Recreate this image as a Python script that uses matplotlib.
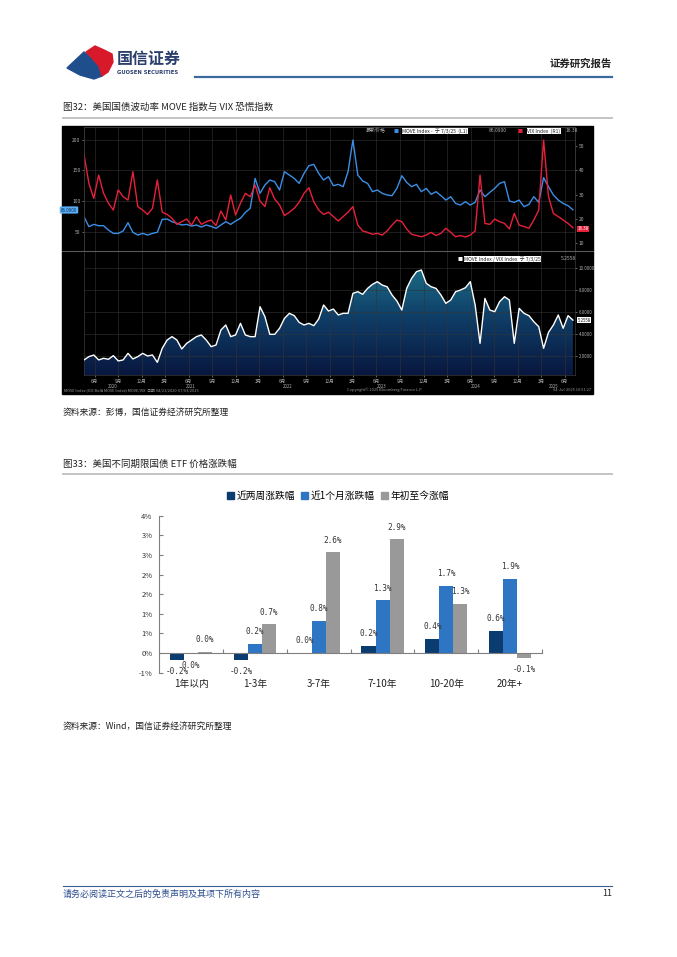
import matplotlib
matplotlib.use('Agg')
import matplotlib.pyplot as plt
import matplotlib.dates as mdates
from matplotlib.patches import Rectangle, Polygon, Patch
from matplotlib.colors import LinearSegmentedColormap
import numpy as np
import pandas as pd

plt.rcParams['font.family'] = ['Noto Sans CJK SC', 'DejaVu Sans']

# ---- 图32 data (evenly spaced samples) ----
move = [74.9, 58.7, 62.4, 60.3, 60.3, 53.2, 47.8, 47.8, 51.6, 65.1,
        49.5, 45.1, 47.8, 45.1, 47.8, 49.5, 70.6, 71.1, 66.8, 64.1,
        61.4, 62.4, 59.7, 61.4, 58.1, 61.4, 59.2, 56.0, 61.4, 66.8,
        62.4, 67.9, 72.2, 81.9, 88.4, 137.1, 112.8, 126.3, 134.4, 131.7,
        118.2, 147.9, 142.5, 137.1, 129.0, 145.2, 157.7, 159.8, 145.2, 134.4,
        139.8, 125.2, 127.4, 123.6, 147.9, 199.3, 142.5, 132.8, 129.0, 115.5,
        118.2, 112.8, 110.1, 109.0, 120.9, 141.4, 130.6, 123.6, 127.4, 115.5,
        120.9, 111.2, 115.5, 109.0, 101.9, 107.4, 96.5, 93.8, 99.2, 93.8,
        98.2, 118.2, 107.4, 114.4, 120.9, 129.0, 131.7, 100.3, 98.2, 101.9,
        91.1, 94.9, 107.4, 98.2, 138.2, 123.6, 110.1, 101.9, 96.5, 92.7, 86.1]
vix = [46.6, 34.7, 28.5, 38.1, 30.6, 26.5, 23.7, 32.0, 29.2, 27.8,
       39.5, 25.1, 23.7, 21.9, 24.4, 36.1, 22.8, 21.9, 20.3, 17.8,
       18.9, 20.0, 17.5, 21.0, 17.8, 18.9, 19.6, 17.3, 23.3, 19.6,
       29.9, 21.7, 26.5, 30.6, 29.2, 34.0, 27.4, 25.1, 32.9, 28.2,
       25.8, 21.4, 22.8, 24.4, 26.9, 30.6, 32.9, 27.1, 23.7, 21.9,
       22.8, 21.0, 19.2, 21.0, 22.8, 25.1, 17.5, 15.1, 14.5, 13.7,
       14.1, 13.4, 15.1, 17.5, 19.6, 18.9, 15.9, 13.7, 13.2, 12.7,
       13.4, 14.5, 13.2, 14.1, 16.2, 14.5, 12.7, 13.2, 12.6, 13.4,
       15.1, 38.1, 18.2, 17.8, 20.0, 18.9, 18.2, 15.9, 22.3, 17.5,
       16.9, 16.2, 19.6, 23.7, 52.5, 29.2, 22.3, 21.0, 19.6, 18.2, 16.4]
ratio = [1.64, 1.94, 2.09, 1.64, 1.79, 1.70, 2.03, 1.55, 1.64, 2.24,
         1.73, 1.94, 2.24, 2.00, 2.09, 1.42, 2.70, 3.45, 3.76, 3.45,
         2.64, 3.15, 3.45, 3.76, 3.91, 3.45, 2.85, 3.00, 4.36, 4.82,
         3.76, 3.91, 4.97, 3.91, 3.76, 3.76, 6.48, 5.58, 3.97, 3.97,
         4.52, 5.42, 5.88, 5.67, 5.06, 4.82, 4.97, 4.76, 5.36, 6.64,
         6.09, 6.27, 5.73, 5.88, 5.88, 7.70, 7.85, 7.61, 8.15, 8.52,
         8.76, 8.45, 8.30, 7.55, 7.00, 6.18, 8.15, 9.06, 9.67, 9.82,
         8.61, 8.30, 8.15, 7.55, 6.79, 7.09, 7.85, 8.00, 8.21, 8.76,
         6.64, 3.15, 7.24, 6.18, 6.03, 6.94, 7.39, 7.09, 3.15, 6.33,
         5.88, 5.67, 5.12, 4.67, 2.70, 4.15, 4.82, 5.73, 4.52, 5.67, 5.26]
dates = pd.date_range('2020-04-21', '2025-07-03', periods=len(move))

# ---- 图33 data ----
categories = ['1年以内', '1-3年', '3-7年', '7-10年', '10-20年', '20年+']
series_names = ['近两周涨跌幅', '近1个月涨跌幅', '年初至今涨幅']
two_week = [-0.18, -0.17, 0.01, 0.18, 0.36, 0.56]
one_month = [-0.02, 0.24, 0.82, 1.34, 1.71, 1.90]
ytd = [0.03, 0.73, 2.57, 2.90, 1.26, -0.12]

W, H = 677, 957
fig = plt.figure(figsize=(W / 100, H / 100), dpi=100)


def fx(x):
    return x / W


def fy(y):
    return 1 - y / H


def hline(x0, x1, y, color, lw):
    fig.add_artist(plt.Line2D([fx(x0), fx(x1)], [fy(y), fy(y)], color=color, lw=lw,
                              transform=fig.transFigure))


def tiny(x, y, s, color, **kw):
    fig.text(fx(x), fy(y), s, fontsize=kw.pop('size', 3.6), color=color, va='center', **kw)


# ---- page header ----
blue_pts = [(67, 68), (84, 52), (92, 58), (99, 66), (102, 76), (94, 79), (80, 75)]
red_pts = [(86, 52), (95, 46), (104, 50), (112, 54), (113, 62), (108, 72), (102, 76), (99, 66), (92, 58)]
fig.add_artist(Polygon([(fx(a), fy(b)) for a, b in blue_pts], closed=True, color='#1f4e8c',
                       transform=fig.transFigure))
fig.add_artist(Polygon([(fx(a), fy(b)) for a, b in red_pts], closed=True, color='#d7192a',
                       transform=fig.transFigure))
fig.text(fx(117), fy(59), '国信证券', fontsize=11.5, fontweight='bold', color='#2b3f6c', va='center')
fig.text(fx(117), fy(72), 'GUOSEN SECURITIES', fontsize=3.8, fontweight='bold', color='#2b3f6c',
         va='center', family='DejaVu Sans')
fig.text(fx(612), fy(64), '证券研究报告', fontsize=7.5, fontweight='bold', color='#222222',
         va='center', ha='right')
hline(195, 612, 77, '#3a6a9e', 1.6)

fig.text(fx(63), fy(107), '图32：美国国债波动率 MOVE 指数与 VIX 恐慌指数', fontsize=6.8,
         color='#222222', va='center')
hline(63, 612, 117.5, '#c4c4c4', 1.4)

# ---- Bloomberg style chart ----
fig.add_artist(Rectangle((fx(62), fy(394)), fx(593) - fx(62), fy(126) - fy(394),
                         transform=fig.transFigure, color='black', zorder=0))

grid_c = '#343434'
lab_c = '#b0b0b0'
xmin = mdates.date2num(dates[0])
xmax = mdates.date2num(dates[-1]) + 8
qticks = pd.date_range('2020-06-01', '2025-06-01', freq='3MS')
PL, PR = 84, 575

ax1 = fig.add_axes([fx(PL), fy(251), fx(PR) - fx(PL), fy(127) - fy(251)])
ax1.set_facecolor('black')
ax1.plot(dates, move, color='#3b8fe6', lw=1.0)
ax1.set_ylim(19.2, 220.5)
ax1.set_xlim(xmin, xmax)
ax1.set_yticks([50, 100, 150, 200])
ax1.set_xticks(qticks)
ax1.set_xticklabels([])
ax1.grid(True, color=grid_c, lw=0.4)
ax1.tick_params(axis='y', labelsize=3.5, colors=lab_c, length=1.5, width=0.4, pad=1)
ax1.tick_params(axis='x', length=0)
ax2 = ax1.twinx()
ax2.plot(dates, vix, color='#e8203a', lw=1.0)
ax2.set_ylim(6.83, 57.9)
ax2.set_yticks([10, 20, 30, 40, 50])
ax2.tick_params(axis='y', labelsize=3.5, colors=lab_c, length=1.5, width=0.4, pad=1)
for a in (ax1, ax2):
    for s in a.spines.values():
        s.set_color('#3a3a3a')
        s.set_linewidth(0.5)

# top legend
tiny(366, 131, '最新价格', lab_c)
tiny(393, 131, '■', '#3b8fe6')
tiny(402, 131, 'MOVE Index -  于 7/3/25  (L1)', '#222222', bbox=dict(fc='white', ec='none', pad=0.3))
tiny(489, 131, '86.0900', lab_c)
tiny(518, 131, '■', '#e8203a')
tiny(527, 131, 'VIX Index  (R1)', '#222222', bbox=dict(fc='white', ec='none', pad=0.3))
tiny(566, 131, '16.38', lab_c)

fig.text(fx(69), fy(210), '86.0900', fontsize=3.2, color='#0a2a4a', ha='center', va='center',
         bbox=dict(boxstyle='round,pad=0.25', fc='#5aaef5', ec='none'))
fig.text(fx(583), fy(229), '16.38', fontsize=3.2, color='white', ha='center', va='center',
         bbox=dict(boxstyle='square,pad=0.2', fc='#e8203a', ec='none'))

hline(62, 593, 251, '#5a5a5a', 0.8)

ax3 = fig.add_axes([fx(PL), fy(375), fx(PR) - fx(PL), fy(251) - fy(375)])
ax3.set_facecolor('black')
ylo, yhi = 0.27, 11.55
poly = ax3.fill_between(dates, ratio, ylo, color='none', lw=0)
grad = np.linspace(0, 1, 256).reshape(-1, 1)
cmap = LinearSegmentedColormap.from_list('bbg', ['#08173f', '#0f3d66', '#1c7089'])
im = ax3.imshow(grad, aspect='auto', cmap=cmap, origin='lower',
                extent=[xmin, xmax, ylo, 10.5], zorder=1)
im.set_clip_path(poly.get_paths()[0], transform=ax3.transData)
ax3.plot(dates, ratio, color='white', lw=1.0, zorder=3)
ax3.set_xlim(xmin, xmax)
ax3.set_ylim(ylo, yhi)
ax3.yaxis.tick_right()
ax3.set_yticks([2, 4, 6, 8, 10])
ax3.set_yticklabels(['2.0000', '4.0000', '6.0000', '8.0000', '10.0000'])
ax3.set_xticks(qticks)
ax3.set_xticklabels([f'{d.month}月' for d in qticks])
ax3.grid(True, color=grid_c, lw=0.4)
ax3.tick_params(axis='y', labelsize=3.2, colors=lab_c, length=1.5, width=0.4, pad=1)
ax3.tick_params(axis='x', labelsize=3.3, colors=lab_c, length=1.5, width=0.4, pad=1)
for s in ax3.spines.values():
    s.set_color('#3a3a3a')
    s.set_linewidth(0.5)
year_pos = ['2020-08-10', '2021-06-10', '2022-06-20', '2023-06-20', '2024-06-20', '2025-04-20']
for yp in year_pos:
    ax3.text(mdates.date2num(pd.Timestamp(yp)), -0.09, yp[:4], transform=ax3.get_xaxis_transform(),
             fontsize=3.1, color=lab_c, ha='center', va='center')

# bottom legend
tiny(457, 259, '■', 'white')
tiny(464, 259, 'MOVE Index / VIX Index  于 7/3/25', '#222222', bbox=dict(fc='white', ec='none', pad=0.3))
tiny(561, 259, '5.2558', lab_c)
fig.text(fx(584), fy(320), '5.2558', fontsize=3.1, color='#111111', ha='center', va='center',
         bbox=dict(boxstyle='square,pad=0.2', fc='white', ec='none'))

tiny(64, 390, 'MOVE Index (ICE BofA MOVE Index) MOVE/VIX  日期 04/21/2020-07/03/2025', '#9a9a9a', size=2.8)
tiny(385, 390, 'Copyright© 2025 Bloomberg Finance L.P.', '#9a9a9a', size=2.8, ha='center')
tiny(591, 390, '04-Jul-2025 10:51:27', '#9a9a9a', size=2.8, ha='right')

fig.text(fx(63), fy(412), '资料来源：彭博，国信证券经济研究所整理', fontsize=6.3, color='#222222', va='center')

# ---- 图33 bar chart ----
fig.text(fx(63), fy(464), '图33：美国不同期限国债 ETF 价格涨跌幅', fontsize=6.8, color='#222222', va='center')
hline(63, 612, 474, '#c4c4c4', 1.4)

ax = fig.add_axes([fx(159.3), fy(672.7), fx(542) - fx(159.3), fy(515.7) - fy(672.7)])
x = np.arange(len(categories))
bw = 0.22
colors = ['#0b3c6f', '#2e75c4', '#999999']
for k, vals in enumerate([two_week, one_month, ytd]):
    bars = ax.bar(x + (k - 1) * bw, vals, bw, color=colors[k], label=series_names[k], zorder=2)
    for b, v in zip(bars, vals):
        s = f'{v:.1f}'
        if s == '-0.0':
            s = '0.0'
        up = v >= 0
        ax.annotate(s + '%', (b.get_x() + b.get_width() / 2, v), xytext=(0, 5.5 if up else -5),
                    textcoords='offset points', ha='center', va='bottom' if up else 'top',
                    fontsize=5.6, family='DejaVu Sans Mono', color='#333333')

ax.set_xlim(-0.5, 5.5)
ax.set_ylim(-0.5, 3.5)
yt = np.arange(-0.5, 3.51, 0.5)
ax.set_yticks(yt)
ax.set_yticklabels([f'{int(np.sign(v) * np.floor(abs(v) + 0.5))}%' for v in yt])
ax.set_xticks(np.arange(0.5, 5.6, 1.0))
ax.set_xticklabels([])
ax.spines['top'].set_visible(False)
ax.spines['right'].set_visible(False)
ax.spines['bottom'].set_position(('data', 0))
for s in ('left', 'bottom'):
    ax.spines[s].set_color('#7f7f7f')
    ax.spines[s].set_linewidth(0.8)
ax.tick_params(axis='y', direction='in', length=3, width=0.8, color='#7f7f7f',
               labelsize=5.5, labelcolor='#333333', pad=5)
ax.tick_params(axis='x', direction='in', length=3, width=0.8, color='#7f7f7f')
for i, c in enumerate(categories):
    ax.annotate(c, (i, -0.5), xytext=(0, -4.5), textcoords='offset points', ha='center', va='top',
                fontsize=7, color='#222222', annotation_clip=False)

handles = [Patch(color=colors[k], label=series_names[k]) for k in range(3)]
fig.legend(handles=handles, loc='center', bbox_to_anchor=(fx(338), fy(496)), ncol=3, frameon=False,
           fontsize=7, handlelength=0.7, handleheight=0.7, handletextpad=0.3, columnspacing=0.6)

fig.text(fx(63), fy(726), '资料来源：Wind，国信证券经济研究所整理', fontsize=6.3, color='#222222', va='center')

# ---- footer ----
hline(63, 612, 886, '#3a5f8f', 0.8)
fig.text(fx(63), fy(894), '请务必阅读正文之后的免责声明及其项下所有内容', fontsize=6.5, color='#2f4f8f',
         va='center', style='italic')
fig.text(fx(612), fy(894), '11', fontsize=6.5, color='#222222', va='center', ha='right')

fig.savefig('out.png', dpi=100)
